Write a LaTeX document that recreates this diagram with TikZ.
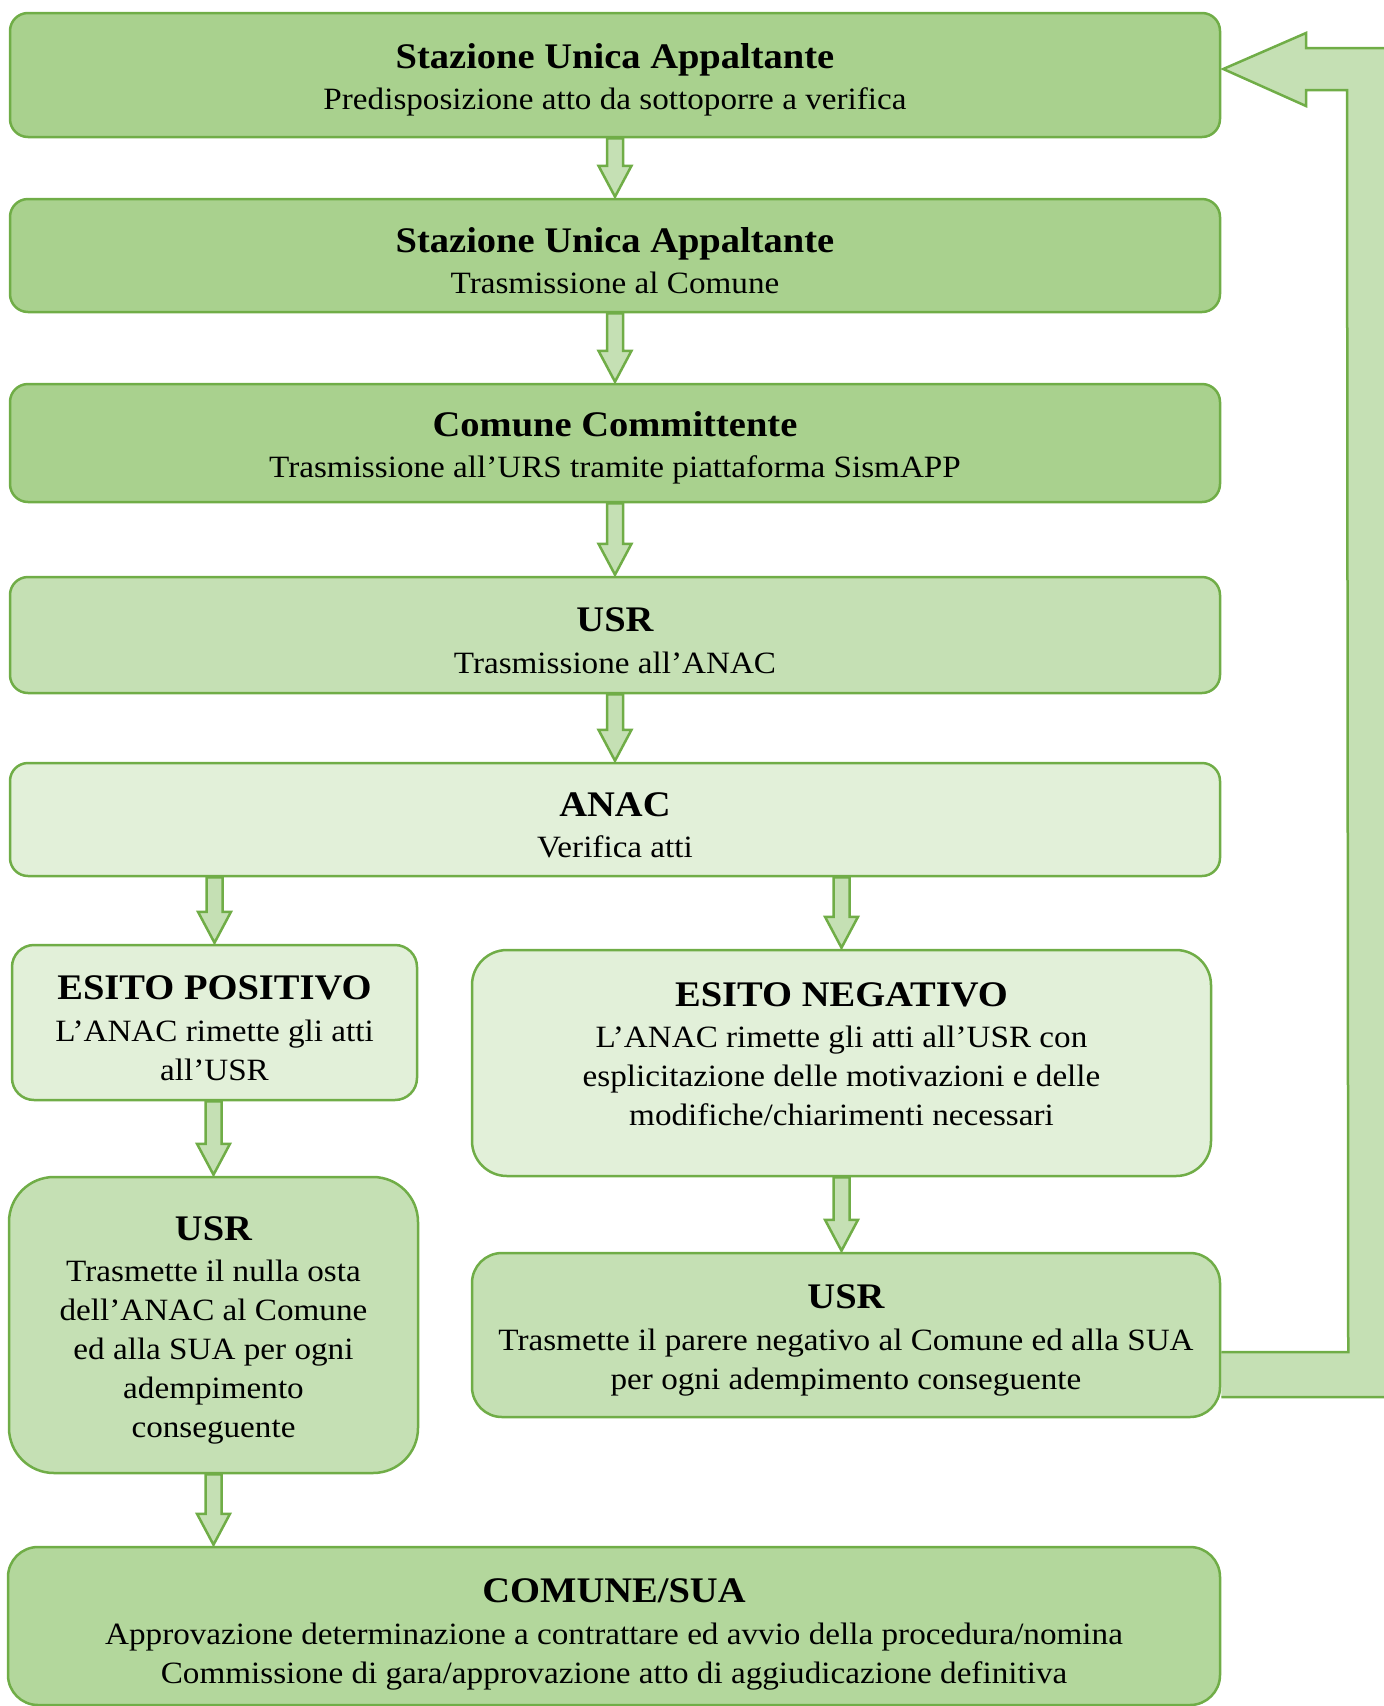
\documentclass[tikz,border=0pt]{standalone}
\usepackage{fontspec}
\setmainfont[FakeStretch=1.07]{Liberation Serif}
\usetikzlibrary{calc,backgrounds}
\definecolor{gline}{HTML}{70AD47}
\definecolor{gdark}{HTML}{A9D18E}
\definecolor{gmid}{HTML}{C5E0B4}
\definecolor{glight}{HTML}{E2F0D9}
\definecolor{gbot}{HTML}{B3D79C}
\newcommand{\ttl}[2][35pt]{{\fontsize{36}{43}\selectfont\bfseries\rule{0pt}{#1}#2}}
\newcommand{\barrow}[2]{%
  \draw[barr] let \p1=(#1), \p2=(#2) in
   (\x2-8pt,\y1) -- (\x2+8pt,\y1) -- (\x2+8pt,\y2+32pt) -- (\x2+16.5pt,\y2+32pt)
   -- (\x2,\y2+1pt) -- (\x2-16.5pt,\y2+32pt) -- (\x2-8pt,\y2+32pt) -- cycle;}
\tikzset{
  box/.style={draw=gline, line width=2.5pt, rounded corners=18pt, align=center,
    inner sep=0pt, text=black, font=\fontsize{31}{39}\selectfont},
  barr/.style={draw=gline, line width=2.5pt, fill=gmid, line join=miter},
  fb/.style={draw=gline, line width=2.5pt, fill=gmid, line join=miter},
}
\begin{document}
\begin{tikzpicture}[x=1pt,y=-1pt]
\useasboundingbox (0,0) rectangle (1384,1706);
\clip (0,0) rectangle (1384,1706);

\node[box, fill=gdark, minimum width=1210pt, minimum height=124pt] (b1) at (615,75)
  {\ttl{Stazione Unica Appaltante}\\[2.5pt]Predisposizione atto da sottoporre a verifica};
\node[box, fill=gdark, minimum width=1210pt, minimum height=113pt] (b2) at (615,255.5)
  {\ttl{Stazione Unica Appaltante}\\[2.5pt]Trasmissione al Comune};
\node[box, fill=gdark, minimum width=1210pt, minimum height=118pt] (b3) at (615,443)
  {\ttl{Comune Committente}\\[2.5pt]Trasmissione all’URS tramite piattaforma SismAPP};
\node[box, fill=gmid, minimum width=1210pt, minimum height=116pt] (b4) at (615,635)
  {\ttl{USR}\\[2.5pt]Trasmissione all’ANAC};
\node[box, fill=glight, minimum width=1210pt, minimum height=113pt] (b5) at (615,819.5)
  {\ttl{ANAC}\\[2.5pt]Verifica atti};
\node[box, fill=glight, rounded corners=22pt, minimum width=405pt, minimum height=155pt] (pos) at (214.5,1022.5)
  {\ttl{ESITO POSITIVO}\\[2.5pt]L’ANAC rimette gli atti\\all’USR};
\node[box, fill=glight, rounded corners=35pt, minimum width=739pt, minimum height=226pt] (neg) at (841.5,1063)
  {\ttl{ESITO NEGATIVO}\\[2.5pt]L’ANAC rimette gli atti all’USR con\\esplicitazione delle motivazioni e delle\\modifiche/chiarimenti necessari\\[-10pt]\mbox{}};
\node[box, fill=gmid, rounded corners=45pt, minimum width=409pt, minimum height=296pt] (usrL) at (213.5,1325)
  {\ttl{USR}\\[2.5pt]Trasmette il nulla osta\\dell’ANAC al Comune\\ed alla SUA per ogni\\adempimento\\conseguente};
\node[box, fill=gmid, rounded corners=30pt, minimum width=748pt, minimum height=164pt] (usrR) at (846,1335)
  {\ttl{USR}\\[2.5pt]Trasmette il parere negativo al Comune ed alla SUA\\per ogni adempimento conseguente};
\node[box, fill=gbot, rounded corners=30pt, minimum width=1212pt, minimum height=158pt] (bot) at (614,1626)
  {\ttl[41pt]{COMUNE/SUA}\\[2.5pt]Approvazione determinazione a contrattare ed avvio della procedura/nomina\\Commissione di gara/approvazione atto di aggiudicazione definitiva};

\begin{pgfonlayer}{background}
  \clip (0,0) rectangle (1384,1706);
  \draw[fb] ($(usrR.east)+(0,17)$) -- ($(usrR.east)+(127,17)$) -- (1347,90) -- (1306,90) -- (1306,106)
    -- ($(b1.east)+(2,-6)$) -- (1306,33) -- (1306,48) -- (1398,48) -- (1398,1397)
    -- ($(usrR.east)+(0,62)$);
\end{pgfonlayer}

\barrow{b1.south}{b2.north}
\barrow{b2.south}{b3.north}
\barrow{b3.south}{b4.north}
\barrow{b4.south}{b5.north}
\barrow{b5.south}{pos.north}
\barrow{b5.south}{neg.north}
\barrow{pos.south}{usrL.north}
\barrow{neg.south}{neg.south |- usrR.north}
\barrow{usrL.south}{usrL.south |- bot.north}
\end{tikzpicture}
\end{document}
